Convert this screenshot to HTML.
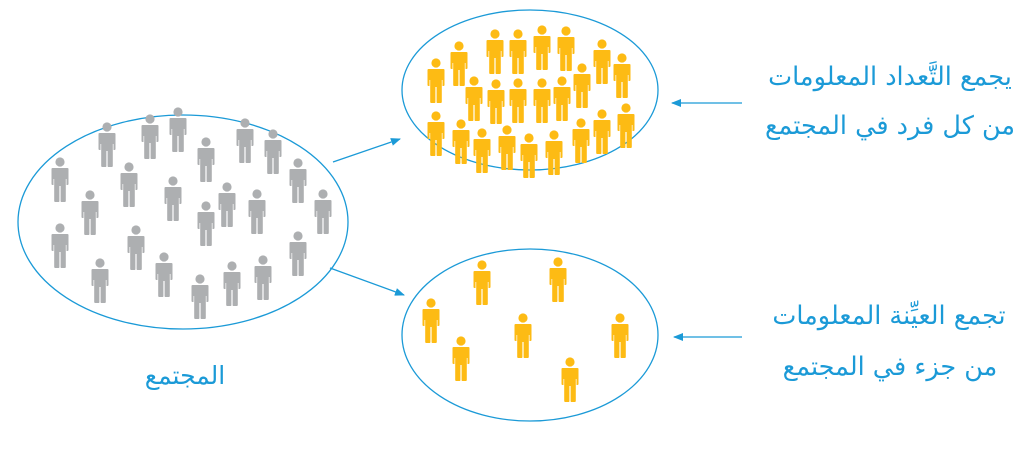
<!DOCTYPE html>
<html><head><meta charset="utf-8"><style>
html,body{margin:0;padding:0;background:#fff;width:1027px;height:450px;overflow:hidden}
text{font-family:"DejaVu Sans","Noto Sans CJK SC",sans-serif;fill:#1b9ad7}
</style></head><body>
<svg width="1027" height="450" viewBox="0 0 1027 450" xmlns="http://www.w3.org/2000/svg">
<defs>
<g id="p">
<circle cx="0" cy="0" r="4.6"/>
<path d="M-7.5,6 H7.5 Q8.5,6 8.5,7 V22 Q8.5,23 7.5,23 H6.5 V17 H5.8 V39 Q5.8,40 4.8,40 H1.2 Q0.6,40 0.6,39 V24 H-0.6 V39 Q-0.6,40 -1.2,40 H-4.8 Q-5.8,40 -5.8,39 V17 H-6.5 V23 H-7.5 Q-8.5,23 -8.5,22 V7 Q-8.5,6 -7.5,6 Z"/>
</g>
<marker id="a" markerWidth="10" markerHeight="8" refX="9" refY="4" orient="auto" markerUnits="userSpaceOnUse">
<path d="M0,0 L10,4 L0,8 Z" fill="#1b9ad7"/>
</marker>
</defs>
<g fill="none" stroke="#1b9ad7" stroke-width="1.3">
<ellipse cx="183" cy="222" rx="165" ry="107"/>
<ellipse cx="530" cy="90" rx="128" ry="80"/>
<ellipse cx="530" cy="335" rx="128" ry="86"/>
<line x1="333" y1="162" x2="400" y2="139" marker-end="url(#a)"/>
<line x1="330" y1="268" x2="404" y2="295" marker-end="url(#a)"/>
<line x1="742" y1="103" x2="672" y2="103" marker-end="url(#a)"/>
<line x1="742" y1="337" x2="674" y2="337" marker-end="url(#a)"/>
</g>
<g fill="#adafb1">
<use href="#p" x="107" y="127"/><use href="#p" x="150" y="119"/><use href="#p" x="178" y="112"/>
<use href="#p" x="245" y="123"/><use href="#p" x="273" y="134"/><use href="#p" x="206" y="142"/>
<use href="#p" x="60" y="162"/><use href="#p" x="129" y="167"/><use href="#p" x="90" y="195"/>
<use href="#p" x="173" y="181"/><use href="#p" x="227" y="187"/><use href="#p" x="206" y="206"/>
<use href="#p" x="257" y="194"/><use href="#p" x="298" y="163"/><use href="#p" x="323" y="194"/>
<use href="#p" x="60" y="228"/><use href="#p" x="136" y="230"/><use href="#p" x="100" y="263"/>
<use href="#p" x="164" y="257"/><use href="#p" x="200" y="279"/><use href="#p" x="232" y="266"/>
<use href="#p" x="263" y="260"/><use href="#p" x="298" y="236"/>
</g>
<g fill="#fdbb14">
<use href="#p" x="495" y="34"/><use href="#p" x="518" y="34"/><use href="#p" x="542" y="30"/>
<use href="#p" x="566" y="31"/><use href="#p" x="459" y="46"/><use href="#p" x="436" y="63"/>
<use href="#p" x="602" y="44"/><use href="#p" x="622" y="58"/><use href="#p" x="474" y="81"/>
<use href="#p" x="496" y="84"/><use href="#p" x="518" y="83"/><use href="#p" x="542" y="83"/>
<use href="#p" x="562" y="81"/><use href="#p" x="582" y="68"/><use href="#p" x="436" y="116"/>
<use href="#p" x="461" y="124"/><use href="#p" x="482" y="133"/><use href="#p" x="507" y="130"/>
<use href="#p" x="529" y="138"/><use href="#p" x="554" y="135"/><use href="#p" x="581" y="123"/>
<use href="#p" x="602" y="114"/><use href="#p" x="626" y="108"/>
<use href="#p" x="482" y="265"/><use href="#p" x="558" y="262"/><use href="#p" x="431" y="303"/>
<use href="#p" x="523" y="318"/><use href="#p" x="620" y="318"/><use href="#p" x="461" y="341"/>
<use href="#p" x="570" y="362"/>
</g>
<text x="890" y="85" font-size="25.5" text-anchor="middle" direction="rtl">يجمع التَّعداد المعلومات</text>
<text x="890" y="134" font-size="25.5" text-anchor="middle" direction="rtl">من كل فرد في المجتمع</text>
<text x="889" y="324" font-size="25.5" text-anchor="middle" direction="rtl">تجمع العيِّنة المعلومات</text>
<text x="890" y="375" font-size="25.5" text-anchor="middle" direction="rtl">من جزء في المجتمع</text>
<text x="185" y="384" font-size="25" text-anchor="middle" direction="rtl">المجتمع</text>
</svg>
</body></html>
